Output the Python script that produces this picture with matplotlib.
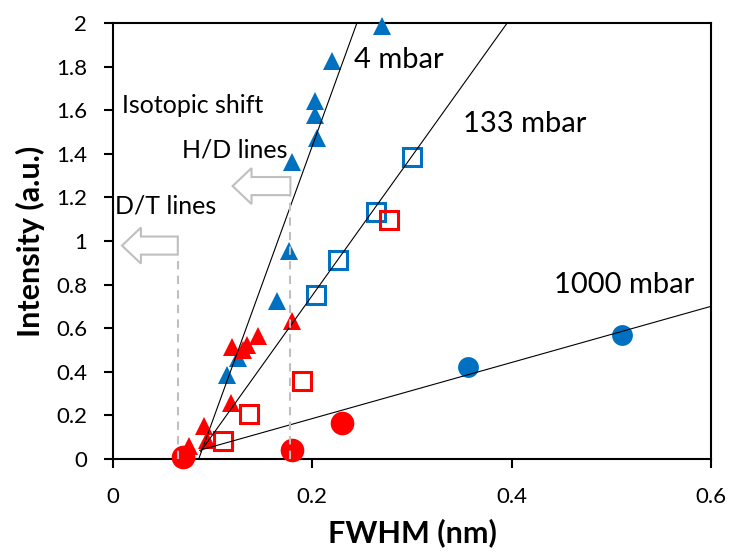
import matplotlib
matplotlib.use("Agg")
import matplotlib.pyplot as plt
from matplotlib.patches import FancyArrow
import numpy as np

plt.rcParams["font.family"] = ["Lato", "DejaVu Sans"]

BLUE = "#0070C0"
RED = "#FF0000"
GREY = "#BFBFBF"

# 4 mbar (triangles)
blue_tri_x = [0.270, 0.220, 0.2025, 0.2025, 0.205, 0.180, 0.177, 0.165, 0.125, 0.114]
blue_tri_y = [1.986, 1.826, 1.64, 1.58, 1.472, 1.362, 0.952, 0.725, 0.463, 0.385]
red_tri_x = [0.180, 0.1457, 0.134, 0.130, 0.1196, 0.118, 0.0912, 0.094, 0.0765]
red_tri_y = [0.633, 0.564, 0.523, 0.50, 0.516, 0.259, 0.149, 0.087, 0.060]

# 133 mbar (open squares)
blue_sq_x = [0.300, 0.264, 0.226, 0.204]
blue_sq_y = [1.387, 1.134, 0.913, 0.752]
red_sq_x = [0.277, 0.190, 0.136, 0.110]
red_sq_y = [1.096, 0.358, 0.206, 0.083]

# 1000 mbar (circles)
blue_circ_x = [0.356, 0.5106]
blue_circ_y = [0.423, 0.569]
red_circ_x = [0.0705, 0.180, 0.230]
red_circ_y = [0.011, 0.041, 0.167]

# trend lines: start point and slope
trend_x0 = [0.086, 0.088, 0.087]
trend_y0 = [0.0, 0.035, 0.040]
trend_slope = [12.6, 6.39, 1.287]

# isotopic shift markers (FWHM position, arrow height)
shift_x = [0.178, 0.065]
shift_y = [1.252, 0.979]
shift_len = [0.058, 0.056]

fig = plt.figure(figsize=(7.31, 5.56), dpi=100)
ax = fig.add_axes([0.1546, 0.1745, 0.818, 0.7841])

mk = dict(zorder=3, clip_on=False)
ax.plot(blue_tri_x, blue_tri_y, "^", color=BLUE, ms=13, mew=0, **mk)
ax.plot(red_tri_x, red_tri_y, "^", color=RED, ms=13, mew=0, **mk)
ax.plot(blue_sq_x, blue_sq_y, "s", mfc="none", mec=BLUE, ms=12.5, mew=2.2, **mk)
ax.plot(red_sq_x, red_sq_y, "s", mfc="none", mec=RED, ms=12.5, mew=2.2, **mk)
ax.plot(blue_circ_x, blue_circ_y, "o", color=BLUE, ms=15, mew=0, **mk)
ax.plot(red_circ_x, red_circ_y, "o", color=RED, ms=17, mew=0, **mk)

for x0, y0, k in zip(trend_x0, trend_y0, trend_slope):
    xs = np.array([x0, 0.6])
    ax.plot(xs, y0 + k * (xs - x0), color="black", lw=0.8, zorder=4)

for x, y, L in zip(shift_x, shift_y, shift_len):
    ax.plot([x, x], [0, y - 0.045], color=GREY, lw=1.5, ls=(0, (4, 3)), zorder=5)
    ax.add_patch(FancyArrow(x, y, -L, 0, width=0.083, head_width=0.165,
                            head_length=0.019, length_includes_head=True,
                            fc="white", ec=GREY, lw=1.5, zorder=5))

ax.text(0.2416, 1.794, "4 mbar", fontsize=21)
ax.text(0.351, 1.50, "133 mbar", fontsize=21)
ax.text(0.442, 0.761, "1000 mbar", fontsize=21)
ax.text(0.009, 1.587, "Isotopic shift", fontsize=18)
ax.text(0.069, 1.385, "H/D lines", fontsize=18)
ax.text(0.002, 1.128, "D/T lines", fontsize=18)

ax.set_xlim(0, 0.6)
ax.set_ylim(0, 2)
ax.set_xticks([0, 0.2, 0.4, 0.6])
ax.set_xticklabels(["0", "0.2", "0.4", "0.6"])
ax.set_yticks(np.arange(0, 2.01, 0.2))
ax.set_yticklabels(["0", "0.2", "0.4", "0.6", "0.8", "1", "1.2", "1.4", "1.6", "1.8", "2"])
ax.tick_params(axis="both", labelsize=16, length=6.5, width=1.5)
ax.tick_params(axis="y", pad=12)
ax.tick_params(axis="x", pad=14)
for s in ax.spines.values():
    s.set_linewidth(1.5)

ax.set_xlabel("FWHM (nm)", fontsize=22, fontweight="bold", labelpad=8)
ax.set_ylabel("Intensity (a.u.)", fontsize=22, fontweight="bold", labelpad=8)

fig.savefig("out.png", dpi=100)
